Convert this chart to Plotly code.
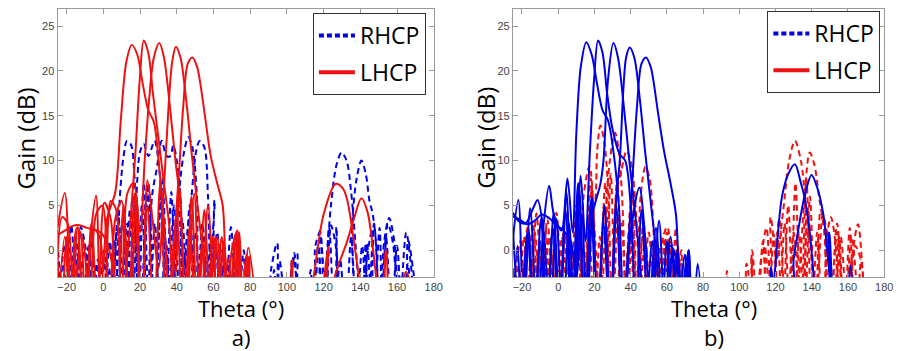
import plotly.graph_objects as go

# ---------------- Panel a) : LHCP (red solid) ----------------
a_lhcp1_theta = [-25, -21, -17.5, -14, -10.5, -7, -4, -1.5, 2, 6.5, 9.5, 12.5, 15.5, 18.5, 21.5, 24.5, 27.5, 30.5, 33.5, 36.5, 40, 43.5, 47, 50.5, 54, 57.5, 61, 64.5, 68, 71.5, 74, 76.5, 79.5, 83, 110, 114.5, 120, 126.5, 130.5, 133, 136.5, 139.5, 141, 150, 154, 158, 165]
a_lhcp1_gain = [2.5, 6.4, -8, 2.6, -8, 1.5, 6.1, -8, 3.5, 6.5, 14.5, 21, 22.9, 21.8, 18.5, 15.6, 14.3, 9, 2, -8, 3.5, -8, 2.5, -8, 1.0, -8, 1.5, -8, -1, -8, 2.0, -8, -0.7, -8, -8, -3, 4, 7.4, 6.9, 5.5, 1, -3.5, -8, -8, 0, -8, -8]

a_lhcp2_theta = [-25, -22.5, -19.5, -16, -12.5, -9, -5.5, -2, 1, 4, 7, 10, 12.5, 15, 17.5, 19.8, 22, 24.5, 27, 30, 33, 36, 38.5, 41.5, 45, 49.5, 53, 57, 61, 64.5, 68, 72, 77, 82, 99, 102.8, 106, 123, 126, 132.5, 136.5, 140.6, 144, 148.7, 152]
a_lhcp2_gain = [-1, 3.7, 3.0, -8, 2.0, -8, 2.4, 1.5, -8, 5.5, 4.5, -8, -2, 4, 11, 19, 23.4, 22, 17.5, 12.5, 7.5, 2.5, -8, 7.0, -8, 6.3, -8, 5.0, -8, 1.5, -8, 1.0, -8, -8, -8, -1.1, -8, -8, -3, 0.8, 3.5, 5.8, 4.2, -3, -8]

a_lhcp3_theta = [-25, -21, -17, -13, -9, -5, -1, 2.5, 6, 9.5, 13, 16.5, 20, 22.5, 25, 27.5, 30.5, 33, 36, 39, 42, 45, 48, 51.5, 55, 58.5, 62, 66, 70, 73, 76, 79, 82, 118, 120.5, 122.6, 125, 160, 163, 165, 167, 170]
a_lhcp3_gain = [1.7, 2.2, 2.7, 2.8, 2.5, 2.3, 1.9, 0.5, -3, -8, 6.3, 7.5, 2, 10, 17, 21.5, 23.1, 21.5, 16.5, 10.5, 5, -8, 6.0, -8, 4.5, -8, 1.5, -8, 0, 2.2, -8, -0.8, -8, -8, -3, 0.4, -8, -8, -3.5, -2.4, -3.5, -8]

a_lhcp4_theta = [-25, -23, -20, -17, -13.5, -10, -6.5, -3, 0.5, 4, 7.5, 11, 14.5, 18, 21, 24, 27, 30, 33, 35.5, 37.5, 39.5, 42, 45, 48, 51, 54, 56.5, 59.5, 62.5, 65.5, 69, 72.5, 75, 78, 82]
a_lhcp4_gain = [-0.5, -8, 1.5, -8, -1, -8, 3.0, -8, 5.3, 3.5, -8, 5.0, -8, 6.0, -8, 7.8, 3, -2, 7, 16, 21, 22.7, 21.5, 17, 11, 5.5, 0, -8, 1.5, -8, 1.0, -8, 2.0, -8, -0.5, -8]

a_lhcp5_theta = [-25, -21, -18, -14.5, -11, -7.5, -4, -0.5, 3, 6.5, 10, 13.5, 17, 20.5, 24, 27.5, 31, 34.5, 38, 41, 43.5, 46, 48.5, 51, 52.5, 55, 58.5, 62, 65, 67, 70, 73.5, 76, 79, 84]
a_lhcp5_gain = [-8, 1.5, -8, 2.5, 1.0, -8, 4.0, 5.0, -8, 3.5, 5.5, -8, 6.3, -8, 5.0, -8, 7.5, -8, 0, 8, 16, 20.8, 21.5, 20.5, 19, 15.5, 10.5, 7.5, 5, -3.5, -8, 2.0, -8, 0.3, -8]

# ---------------- Panel a) : RHCP (blue dashed) ----------------
a_rhcp1_theta = [-25, -21.5, -18, -15, -12.3, -9.5, -6, -3, 0, 3, 6, 9, 11, 12.9, 15, 17, 19, 22, 25, 28, 31, 34, 37.5, 41, 44.5, 48, 52, 56, 60, 64, 68, 72, 76, 88, 91.5, 94.7, 98, 114, 118, 120.5, 124, 127, 129.8, 132.5, 135, 138, 141, 143, 146, 150]
a_rhcp1_gain = [-2.5, -8, -1.5, -8, 2.6, 0, -8, -1, -8, -2, -8, 6, 10.5, 12.2, 11.8, 8, -8, 7.5, -8, 3, -8, 1, -8, 5, -8, 0.5, -8, -1, -8, 0, -8, -2, -8, -8, -2, 0.8, -8, -8, 2.2, -3, 5, 9.5, 10.9, 10, 6.5, -1, -8, 0.8, -8, -8]

a_rhcp2_theta = [-25, -22, -18.5, -15, -11.5, -8, -4.5, -1, 2.5, 6, 9.5, 13, 16, 18.5, 20, 22, 24.5, 26, 27.9, 30, 32, 34, 37, 40, 43, 46.5, 50, 54, 58, 62, 66, 70, 74, 100, 103, 105.5, 108, 124, 127, 130, 141, 143.5, 146.7, 149.5, 162, 166, 169, 172]
a_rhcp2_gain = [-8, -1.5, -8, 1.5, -8, 0.5, -8, -2, -8, 1.0, -8, 3, -8, 8, 11, 11.85, 10.5, 11.2, 12.2, 10, 4, -8, 6.5, -8, 3.5, -8, 2, -8, 0, -8, -1.5, -8, -8, -8, -1.5, -0.3, -8, -8, 2.6, -8, -8, -1, 2.4, -8, -8, 1.1, -2.5, -8]

a_rhcp3_theta = [-25, -21, -17, -13.5, -10, -6.5, -3, 0.5, 4, 7.5, 11, 14.5, 18, 21, 24, 26.5, 29, 31.8, 34.5, 36.5, 38.1, 40, 42, 44, 47, 50.5, 54, 57.5, 61, 64.5, 68, 72, 90, 93, 96, 100, 103, 110, 113, 116, 133, 135.5, 138, 140.6, 143, 145, 146.7, 148.5, 150.5, 153, 155.7, 158.5, 161]
a_rhcp3_gain = [-8, 0.5, -8, -0.5, -8, 1.0, -8, 0.0, -8, 2.5, -8, 4.5, -8, 5.0, -8, 6.0, 9, 12.2, 10.5, 10.5, 11.7, 10, 6, -8, 5, -8, 3, -8, 0.5, -8, -1.0, -8, -8, -2.2, -8, -8, -1.0, -8, -2.2, -8, -8, 3, 8, 10, 8.5, 5.5, 4.1, 1, -8, 1, 3.6, 1, -8]

a_rhcp4_theta = [-25, -20, -16, -12, -8, -4, 0, 4, 8, 12, 16, 20, 24, 28, 32, 36, 39.5, 42, 44, 46.2, 48.5, 51, 53.5, 57, 60.6, 64, 112, 115.5, 118, 121, 124, 127, 130, 140, 143.5, 147, 150.5, 152, 155, 158, 161, 165, 167.5, 170]
a_rhcp4_gain = [-1.5, -8, 0.5, -8, -2.0, -8, -1, -8, 4, -8, 6.0, -8, 7.0, -8, 8, -8, 2, 8, 11, 12.6, 11.5, 6, -8, -8, 5.6, -8, -8, 0.5, 2.0, -8, 2.8, 0, -8, -8, 0.8, -8, 2.5, -8, 3.0, 0.5, -8, 2.0, -1.5, -8]

a_rhcp5_theta = [-25, -21, -17.5, -14, -10.5, -7, -3.5, 0, 3.5, 7, 10.5, 14, 17.5, 21, 24.5, 28, 31.5, 35, 38.5, 42, 45, 48, 50.5, 52.5, 55, 57, 59, 62, 66, 69.5, 73, 76.5, 80, 92, 96, 100, 104, 108, 113, 117, 120, 123, 126, 129, 132, 135, 138, 141, 144, 147.5, 151, 154, 157, 160, 163, 166, 169, 171]
a_rhcp5_gain = [1, -8, 2.8, -8, 0.5, -8, -1.5, -8, 1.0, -8, 3.5, -8, 5.0, -8, 7.5, -8, 6.5, -8, 5.0, -8, 0.5, 6, 11, 12.2, 11.5, 6, -8, 2, -8, 2.6, -8, 0, -8, -8, -1.2, -8, -0.3, -8, -8, 0.5, -8, 2.6, -8, -1, -8, 1.5, -8, 0.5, -8, 3.0, -8, 1.5, -8, 0.5, -8, -1.5, -8, -8]

# ---------------- Panel b) : blue solid ----------------
b_solid1_theta = [-25, -22, -19, -15.5, -11.5, -8, -5, -2.4, 1.8, 5.1, 8, 10, 12.5, 15.5, 18.5, 21.5, 24.5, 27.5, 30.5, 33.5, 36.5, 40, 44.8, 48, 51.5, 55.7, 59, 62, 65, 68.5, 72, 75, 78, 117, 119, 123.5, 127, 130.7, 134, 136, 138.8, 141.5, 143]
b_solid1_gain = [1.3, 5.6, -8, 4.7, -8, 3.0, 7.2, 4.0, 2.2, 8.0, 2, 13, 20.5, 23.2, 21.8, 18.5, 15.6, 14.5, 11, 5, -8, 2, 7.0, 1.5, -8, 3.3, -8, 0.5, -0.7, -8, 0, -8, -8, -8, -4, 5.9, 8.5, 9.6, 7.5, 5.9, 2.2, -4, -8]

b_solid2_theta = [-25, -21.5, -18, -14, -11.4, -8, -4.5, -1, 2.5, 6, 9, 12.4, 15, 17.5, 19.8, 22, 24.5, 27, 30, 34, 37, 40, 43, 46, 50, 54, 58, 62, 66, 70, 74, 78, 128, 130, 132.5, 136, 139.9, 143, 146.4, 149, 152]
b_solid2_gain = [4.2, 3.2, 3.0, 4.6, 5.6, 2, -8, 3.5, -8, 3.0, -8, 8.3, 1, 11, 19, 23.4, 22, 17.5, 13.5, 10.7, 10.0, 5, -8, 4.5, -8, 2.5, -8, 1.5, -8, -0.5, -8, -8, -8, -1, 2.2, 6.0, 8.4, 7, 4.0, -1, -8]

b_solid3_theta = [-25, -21, -17, -13, -9, -5, -1, 3, 7, 10, 13, 16, 19, 23.3, 25, 27.5, 30.5, 33, 36, 39, 42, 45, 48, 52, 55.7, 59, 63, 67, 71, 74, 77, 80, 145, 149.5, 154, 158, 161.3, 164]
b_solid3_gain = [3.8, 3.4, 2.9, 3.3, 4.0, 3.6, 2.8, 2.2, 1.0, -3, 4, -8, 4, 7.4, 10, 19, 23.1, 21.5, 16.5, 10.5, 5, -1, -8, 1, -8, -8, 0, -8, -1, -8, -8, -8, -8, 2.0, -8, -8, -1.7, -8]

b_solid4_theta = [-25, -22.5, -20, -16.5, -13, -9.5, -6, -2.5, 1, 4.5, 8, 11.5, 15, 18.5, 22, 25.5, 29, 32, 34, 36, 37.5, 39.5, 42, 45, 48, 51, 54, 57, 60, 63, 66, 69, 72, 75, 78, 114, 117.5, 120]
b_solid4_gain = [-8, 0.5, -8, 2.5, -8, 3.5, -8, 4.2, -8, 6.5, -8, 7.0, -8, 6.0, -8, 5.0, -8, 5.6, 10, 18, 21.5, 22.6, 21.5, 17, 11, 5.5, 0, -8, 1.0, -8, 0, -8, 0, -8, -8, -8, -1.9, -8]

b_solid5_theta = [-25, -21, -17, -13.5, -10, -6.5, -3, 0.5, 4, 7.5, 11, 14.5, 18, 21.5, 25, 28.5, 32, 35.5, 38.5, 41, 43.5, 46, 48.5, 51, 52.5, 55, 58.5, 62, 65, 67, 70, 72, 74.5, 77, 80]
b_solid5_gain = [2.5, -8, 2.0, -8, 1.0, -8, 2.5, -8, 4.5, -8, 7.5, -8, 5.0, -8, 3.0, -8, 5.0, -8, 0, 8, 16, 20.8, 21.5, 20.5, 19, 15.5, 11, 7.5, 4, -3.5, -8, 0, -8, -1.5, -8]

# ---------------- Panel b) : red dashed ----------------
b_dash1_theta = [-25, -22, -19, -16, -12, -8, -4, 0, 4, 8, 11.5, 14, 17.3, 20, 21.5, 23.3, 25.5, 27.5, 30, 33, 36, 39.5, 43, 46.5, 50, 54, 58, 62, 66, 70, 90, 93.2, 96, 114, 117.3, 120.5, 124, 127.5, 130.7, 134, 136.5, 139, 145, 148, 150.6, 153, 156]
b_dash1_gain = [-2, -8, 1.5, -8, 4.1, -8, 0, -8, 2, -8, 3, -8, 4, 5, 11, 13.9, 12, 7, -8, 4, -8, 2.5, -8, 1.5, -8, 0.5, -8, -1, -8, -8, -8, -2.3, -8, -8, 3.7, -1, 4, 10, 12.2, 10, 5, -8, -8, 1, 3.7, 1, -8]

b_dash2_theta = [-25, -21, -17, -13, -9, -5, -1, 3, 7, 10.5, 14, 17.3, 20.5, 23.5, 26, 28.5, 31.4, 33.5, 35.5, 38, 41, 44, 48, 52, 56, 60.3, 64, 68, 72, 103, 106.9, 110, 130, 133, 136, 138.9, 141.5, 144, 147, 150, 154, 158, 162, 165.5, 168, 170]
b_dash2_gain = [-2.5, -8, 2.5, -8, 0.5, -8, 4.2, -8, -0.5, -8, 6, 9.4, 1, -8, 3, 10, 13.1, 11, 5, -8, 3.5, -8, 1, -8, 0, 2.6, -8, -1.5, -8, -8, -0.8, -8, -8, -3, 6, 10.9, 9.5, 6, 2, -8, 2.0, -8, -1, 2.9, -2, -8]

b_dash3_theta = [-25, -22, -18, -14, -10, -6, -2, 2, 6, 10, 14, 18, 22, 26, 29, 32, 35, 37.8, 40.5, 43, 46, 50, 54, 58, 62, 66, 70, 100, 104, 108, 112, 115, 118, 121, 124, 127, 130, 133, 136, 139, 142, 146, 150, 154, 158, 162, 166]
b_dash3_gain = [-8, -2, -8, 3.0, -8, 3.5, -8, 1.5, -8, 5.0, -8, 8, -8, 7.5, -8, 6, 9, 11.1, 9.5, 4, -8, 2, -8, 1.5, -8, 0.5, -8, -8, -1.5, -8, -1, 2.5, -8, 2, -8, 5, -8, 2, -8, 6, -8, 4, -8, 3, -8, 1.5, -8]

b_dash4_theta = [-25, -21, -17, -13, -9, -5, -1, 3, 7, 11, 15, 18.5, 22, 25.5, 29, 32.5, 36, 40, 43, 45.5, 48.2, 50.5, 53, 56, 60, 64, 68, 72, 110, 114, 118, 122, 126, 130, 134, 138, 142, 145, 148, 152, 156, 160, 164, 167, 170]
b_dash4_gain = [-8, 1.0, -8, 2.0, -8, 1.5, -8, 2.0, -8, 1.5, -8, 7, -8, 5, -8, 8, -8, 5.0, -8, 6, 9.3, 8, 1, -8, 2.0, -8, 0, -8, -8, 0.5, -8, 3.5, -8, 2, -8, 4, -8, 4.5, 2.5, -8, 1.5, -8, 0.5, -1, -8]

b_dash5_theta = [-25, -22, -19, -16, -13, -10, -7, -4, -1, 2, 5, 8, 11, 14, 17, 20, 23, 26, 29, 32, 35, 38, 41, 44, 47, 50, 53, 56, 59, 62, 65, 68, 71, 103, 107, 110, 113, 116, 119, 122, 125, 128, 131, 134, 137, 140, 143, 146, 149, 152, 155, 158, 161, 164, 167]
b_dash5_gain = [-2.3, -8, -1.5, -8, -1, -8, 2.5, -8, -2.0, -8, -1.8, -8, 0.5, -8, 2.5, -8, 1.5, -8, 8.5, -8, 3, -8, 6.5, -8, 3.5, -8, 0.5, -8, 1.0, -8, 2.5, -8, -8, -8, 0, -8, 1, -8, 1.8, -8, 3.0, -8, 7.5, -8, 8, -8, 2, -8, 0.5, -8, 1.5, -8, 2.5, -8, -1]

x_ticks = [-20, 0, 20, 40, 60, 80, 100, 120, 140, 160, 180]
y_ticks = [0, 5, 10, 15, 20, 25]
legend_names = ["RHCP", "LHCP"]
x_title = "Theta (°)"
y_title = "Gain (dB)"
panel_labels = ["a)", "b)"]

W, H = 904, 351
OFF = 8  # page body margin in the browser
BLUE = "#0000e6"
RED = "#ee1111"
DASH = "6px,4px"


def px(x):
    return (x - OFF) / W


def py(y):
    return 1 - (y - OFF) / H


fig = go.Figure()


def add(theta, gain, color, dashed, xa, ya):
    fig.add_trace(go.Scatter(
        x=theta, y=gain, mode="lines", xaxis=xa, yaxis=ya, showlegend=False,
        hoverinfo="skip",
        line=dict(color=color, width=2, shape="spline", smoothing=0.9,
                  dash=DASH if dashed else "solid")))


# panel a
for th, g in [(a_rhcp1_theta, a_rhcp1_gain), (a_rhcp2_theta, a_rhcp2_gain),
              (a_rhcp3_theta, a_rhcp3_gain), (a_rhcp4_theta, a_rhcp4_gain),
              (a_rhcp5_theta, a_rhcp5_gain)]:
    add(th, g, BLUE, True, "x", "y")
for th, g in [(a_lhcp1_theta, a_lhcp1_gain), (a_lhcp2_theta, a_lhcp2_gain),
              (a_lhcp3_theta, a_lhcp3_gain), (a_lhcp4_theta, a_lhcp4_gain),
              (a_lhcp5_theta, a_lhcp5_gain)]:
    add(th, g, RED, False, "x", "y")

# panel b
for th, g in [(b_dash1_theta, b_dash1_gain), (b_dash2_theta, b_dash2_gain),
              (b_dash3_theta, b_dash3_gain), (b_dash4_theta, b_dash4_gain),
              (b_dash5_theta, b_dash5_gain)]:
    add(th, g, RED, True, "x2", "y2")
for th, g in [(b_solid1_theta, b_solid1_gain), (b_solid2_theta, b_solid2_gain),
              (b_solid3_theta, b_solid3_gain), (b_solid4_theta, b_solid4_gain),
              (b_solid5_theta, b_solid5_gain)]:
    add(th, g, BLUE, False, "x2", "y2")

# legend-only entries
for lg, xa, ya in [("legend", "x", "y"), ("legend2", "x2", "y2")]:
    fig.add_trace(go.Scatter(x=[None], y=[None], mode="lines", name=legend_names[0],
                             xaxis=xa, yaxis=ya, legend=lg, legendgroup=lg + "r",
                             line=dict(color=BLUE, width=4, dash="5px,3px")))
    fig.add_trace(go.Scatter(x=[None], y=[None], mode="lines", name=legend_names[1],
                             xaxis=xa, yaxis=ya, legend=lg, legendgroup=lg + "l",
                             line=dict(color=RED, width=4)))

ax_common = dict(showline=True, linecolor="#9a9a9a", linewidth=1, mirror="ticks",
                 ticks="inside", ticklen=5, tickcolor="#9a9a9a", showgrid=False,
                 zeroline=False, tickfont=dict(family="Liberation Sans", size=11, color="#444"))

ya_dom = [py(277), 1.0]
y_range = [-3, 26.9]
legend_style = dict(xanchor="left", yanchor="top", bgcolor="white",
                    bordercolor="#333", borderwidth=1, tracegroupgap=4, itemwidth=36,
                    font=dict(family="Open Sans", size=23, color="black"))
fig.update_layout(
    width=W, height=H, margin=dict(l=0, r=0, t=0, b=0),
    paper_bgcolor="white", plot_bgcolor="white", showlegend=True,
    xaxis=dict(domain=[px(58), px(438)], range=[-25, 180], tickvals=x_ticks, anchor="y", **ax_common),
    yaxis=dict(domain=ya_dom, range=y_range, tickvals=y_ticks, anchor="x", **ax_common),
    xaxis2=dict(domain=[px(518), px(893)], range=[-25, 180], tickvals=x_ticks, anchor="y2", **ax_common),
    yaxis2=dict(domain=ya_dom, range=y_range, tickvals=y_ticks, anchor="x2", **ax_common),
    legend=dict(x=px(316), y=py(12), **legend_style),
    legend2=dict(x=px(775), y=py(10), **legend_style),
)

title_font = dict(family="Open Sans", size=24, color="black")
for x, y, txt in [(26, 138, y_title), (490, 137, y_title)]:
    fig.add_annotation(x=px(x), y=py(y), xref="paper", yref="paper", text=txt,
                       showarrow=False, textangle=-90, font=title_font,
                       xanchor="center", yanchor="middle")
# x-axis title and panel label stacked as one text block below each panel
for x, lab in [(243, panel_labels[0]), (721, panel_labels[1])]:
    fig.add_annotation(x=px(x), y=py(322), xref="paper", yref="paper",
                       text=x_title + "<br>" + lab, showarrow=False, borderpad=0,
                       font=dict(family="Open Sans", size=22, color="black"),
                       xanchor="center", yanchor="middle", align="center")

fig.write_html("out.html")
